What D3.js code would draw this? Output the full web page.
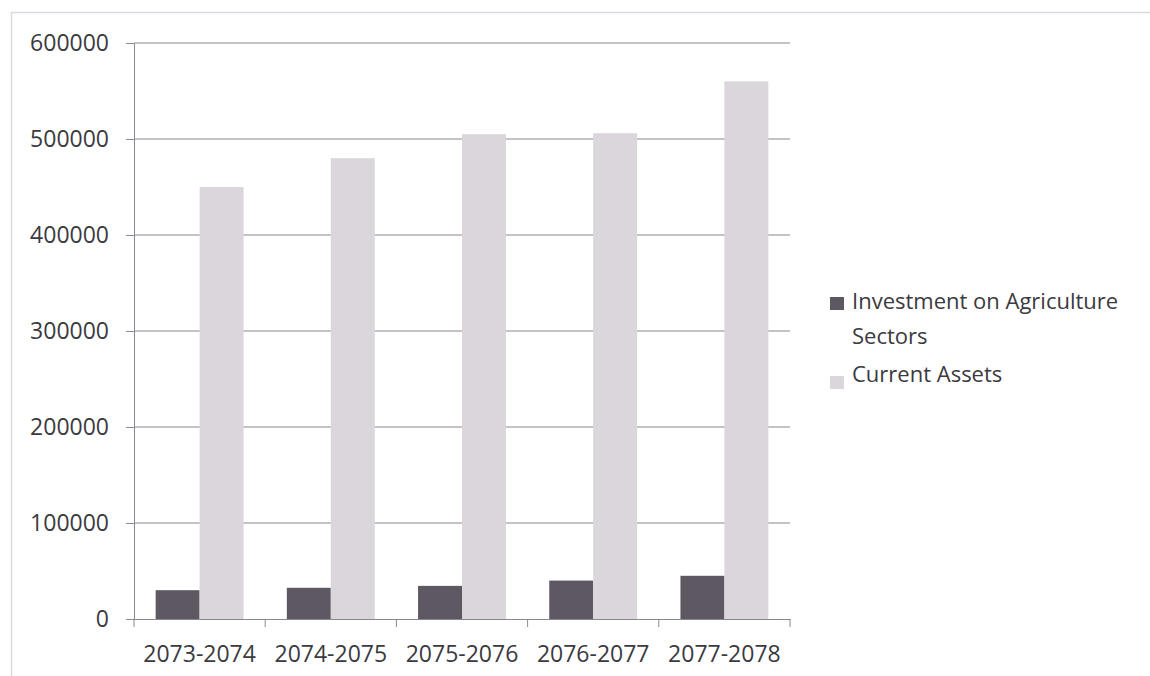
<!DOCTYPE html>
<html>
<head>
<meta charset="utf-8">
<script src="https://cdn.jsdelivr.net/npm/d3@7/dist/d3.min.js"></script>
<style>
  html, body { margin: 0; padding: 0; background: #ffffff; }
  svg { display: block; }
  text { font-family: "Open Sans", "Lato", sans-serif; fill: #3b3a40; }
</style>
</head>
<body>
<svg id="chart" width="1150" height="676"></svg>
<script>
// Fiscal years on the category axis
const categories = ["2073-2074", "2074-2075", "2075-2076", "2076-2077", "2077-2078"];
// Series values
const investment = [30000, 32500, 34500, 40000, 45000];
const currentAssets = [450000, 480000, 505000, 506000, 560000];
const seriesNames = ["Investment on Agriculture Sectors", "Current Assets"];
const seriesColors = ["#5d5862", "#dad6db"];
// Value axis ticks
const yTicks = [0, 100000, 200000, 300000, 400000, 500000, 600000];

const svg = d3.select("#chart");
const plot = { left: 134, right: 790, top: 43, bottom: 619 };
const axisColor = "#8a8792";

// Chart area frame
svg.append("rect")
  .attr("x", 11.5).attr("y", 12.5).attr("width", 1300).attr("height", 800)
  .attr("fill", "none").attr("stroke", "#dcd8df").attr("stroke-width", 1.5);

const x = d3.scaleBand().domain(categories).range([plot.left, plot.right]).paddingInner(0).paddingOuter(0);
const inner = d3.scaleBand().domain([0, 1]).range([0, x.bandwidth() * 0.67]).padding(0);
const y = d3.scaleLinear().domain([0, 600000]).range([plot.bottom, plot.top]);

// Horizontal gridlines
svg.append("g")
  .selectAll("line")
  .data(yTicks.filter(d => d > 0))
  .join("line")
  .attr("x1", plot.left).attr("x2", plot.right)
  .attr("y1", d => y(d)).attr("y2", d => y(d))
  .attr("stroke", axisColor).attr("stroke-width", 1);

// Bars
const groupOffset = (x.bandwidth() - inner.range()[1]) / 2;
const rows = categories.map((c, i) => ({ c, vals: [investment[i], currentAssets[i]] }));
const groups = svg.append("g").selectAll("g")
  .data(rows)
  .join("g")
  .attr("transform", d => `translate(${x(d.c) + groupOffset},0)`);
groups.selectAll("rect")
  .data(d => d.vals.map((v, k) => ({ v, k })))
  .join("rect")
  .attr("x", d => inner(d.k))
  .attr("width", inner.bandwidth())
  .attr("y", d => y(d.v))
  .attr("height", d => y(0) - y(d.v))
  .attr("fill", d => seriesColors[d.k]);

// Value axis
const yAxis = d3.axisLeft(y).tickValues(yTicks).tickSize(8).tickPadding(17).tickFormat(d3.format("d"));
const gy = svg.append("g").attr("transform", `translate(${plot.left},0)`).call(yAxis);
gy.select(".domain").attr("stroke", axisColor);
gy.selectAll(".tick line").attr("stroke", axisColor);
gy.selectAll("text").attr("font-size", 23).attr("fill", "#3b3a40")
  .attr("font-family", '"Open Sans", sans-serif');

// Category axis
const xAxis = d3.axisBottom(x).tickSize(0).tickPadding(27);
const gx = svg.append("g").attr("transform", `translate(0,${plot.bottom})`).call(xAxis);
gx.select(".domain").attr("stroke", axisColor);
gx.selectAll("text").attr("font-size", 23).attr("fill", "#3b3a40")
  .attr("font-family", '"Open Sans", sans-serif');
// Tick marks between categories
const bounds = categories.map(c => x(c)).concat([plot.right]);
svg.append("g").selectAll("line")
  .data(bounds)
  .join("line")
  .attr("x1", d => d).attr("x2", d => d)
  .attr("y1", plot.bottom).attr("y2", plot.bottom + 8)
  .attr("stroke", axisColor);

// Legend
const legend = svg.append("g").attr("transform", "translate(830,297)");
legend.append("rect").attr("x", 0).attr("y", 0).attr("width", 14).attr("height", 13).attr("fill", seriesColors[0]);
legend.append("text").attr("x", 22).attr("y", 12).attr("font-size", 22).text("Investment on Agriculture");
legend.append("text").attr("x", 22).attr("y", 47).attr("font-size", 22).text("Sectors");
legend.append("rect").attr("x", 0).attr("y", 79).attr("width", 14).attr("height", 13).attr("fill", seriesColors[1]);
legend.append("text").attr("x", 22).attr("y", 85).attr("font-size", 22).text(seriesNames[1]);
</script>
</body>
</html>
